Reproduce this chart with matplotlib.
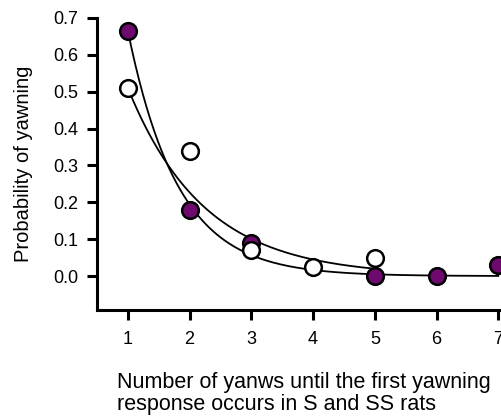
import numpy as np
import matplotlib
matplotlib.use("Agg")
import matplotlib.pyplot as plt

plt.rcParams['font.family'] = ['Liberation Sans', 'DejaVu Sans']

# Data
x_filled = [1, 2, 3, 5, 6, 7]
y_filled = [0.665, 0.18, 0.09, 0.0, 0.0, 0.03]
x_open = [1, 2, 3, 4, 5]
y_open = [0.51, 0.34, 0.072, 0.025, 0.05]

# exponential fit parameters (y = a * exp(-b * (x - 1)))
fit_filled = {"a": 0.665, "b": 1.23, "xmax": 7.0}
fit_open = {"a": 0.51, "b": 0.81, "xmax": 5.0}

xticks = [1, 2, 3, 4, 5, 6, 7]
yticks = [0.0, 0.1, 0.2, 0.3, 0.4, 0.5, 0.6, 0.7]

purple = "#6e0a6e"

fig = plt.figure(figsize=(5.02, 4.16), dpi=100)
ax = fig.add_axes([97 / 502, 106 / 416, 1 - 97 / 502, (310 - 18) / 416])

for fit in (fit_filled, fit_open):
    xs = np.linspace(1, fit["xmax"], 200)
    ax.plot(xs, fit["a"] * np.exp(-fit["b"] * (xs - 1)), color="black", lw=1.3, zorder=2)

ax.plot(x_filled, y_filled, 'o', ms=12, mfc=purple, mec="black", mew=1.8, clip_on=False, zorder=3)
ax.plot(x_open, y_open, 'o', ms=12, mfc="white", mec="black", mew=1.8, clip_on=False, zorder=4)

ax.set_xlim(0.5, 7.06)
ax.set_ylim(-0.092, 0.7)
ax.set_xticks(xticks)
ax.set_yticks(yticks)
ax.set_xticklabels([str(t) for t in xticks])
ax.set_yticklabels([f"{t:.1f}" for t in yticks])
ax.spines['top'].set_visible(False)
ax.spines['right'].set_visible(False)
for s in ('left', 'bottom'):
    ax.spines[s].set_linewidth(2.2)
ax.tick_params(axis='both', direction='out', length=7.2, width=2.2, labelsize=13, pad=6.5)
ax.tick_params(axis='x', pad=8)

ax.set_ylabel("Probability of yawning", fontsize=14.5, labelpad=14)
ax.set_xlabel("Number of yanws until the first yawning\nresponse occurs in S and SS rats",
              fontsize=15.5, labelpad=17, ha='left', x=20 / 405, linespacing=1.05)

fig.savefig("out.png", dpi=100)
